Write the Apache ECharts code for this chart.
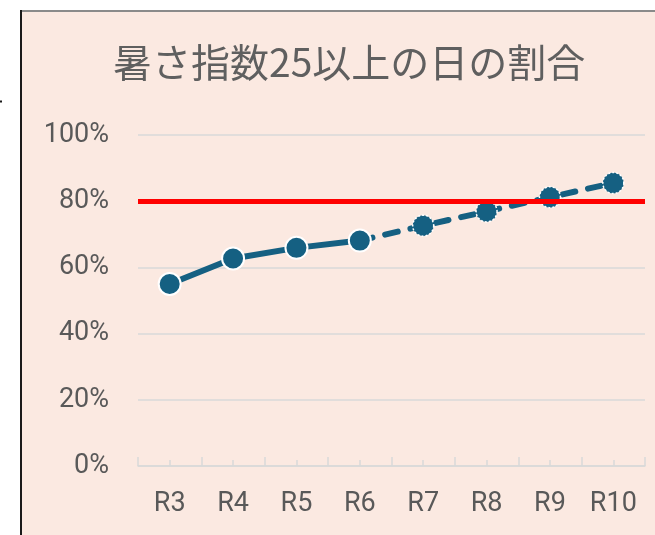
<!DOCTYPE html>
<html>
<head>
<meta charset="utf-8">
<script src="https://cdn.jsdelivr.net/npm/echarts@6/dist/echarts.min.js"></script>
<style>
html,body{margin:0;padding:0;background:#ffffff;}
#chart{width:655px;height:535px;}
</style>
</head>
<body>
<div id="chart"></div>
<script>
// ---- data ----
const titleText = '暑さ指数25以上の日の割合';
const categories = ['R3', 'R4', 'R5', 'R6', 'R7', 'R8', 'R9', 'R10'];
const actualValues = [55.0, 62.7, 65.9, 68.1, null, null, null, null];
const forecastValues = [null, null, null, 68.1, 72.6, 76.9, 81.2, 85.5];
const thresholdValue = 80;
const yTicks = { min: 0, max: 100, interval: 20 };

const chart = echarts.init(document.getElementById('chart'), null, { renderer: 'canvas' });
const navy = '#156082';
const labelFont = 'Roboto, "Liberation Sans", sans-serif';

const option = {
  animation: false,
  backgroundColor: '#ffffff',
  graphic: [
    { type: 'rect', z: -10, shape: { x: 21, y: 11, width: 700, height: 600 }, style: { fill: '#FBE9E1' } },
    { type: 'line', z: -9, shape: { x1: 21, y1: 11, x2: 700, y2: 11 }, style: { stroke: '#8a8a8a', lineWidth: 2 } },
    { type: 'line', z: -9, shape: { x1: 21, y1: 10, x2: 21, y2: 600 }, style: { stroke: '#1a1a1a', lineWidth: 2 } },
    { type: 'line', z: -9, shape: { x1: 0, y1: 101.5, x2: 2, y2: 101.5 }, style: { stroke: '#1a1a1a', lineWidth: 2 } }
  ],
  title: {
    text: titleText,
    left: 113,
    top: 43,
    padding: 0,
    textStyle: {
      fontFamily: '"Noto Sans CJK JP", sans-serif',
      fontSize: 39,
      fontWeight: 'normal',
      color: '#5f5f5f'
    }
  },
  grid: { left: 138, right: 10, top: 135, bottom: 69, containLabel: false },
  xAxis: [
    {
      type: 'category',
      data: categories,
      boundaryGap: true,
      axisLine: { show: true, lineStyle: { color: '#D9D9D9', width: 1.5 } },
      axisTick: { show: true, inside: true, length: 9, alignWithLabel: false, lineStyle: { color: '#D9D9D9', width: 1.5 } },
      axisLabel: { fontFamily: labelFont, fontSize: 27, color: '#595959', margin: 25 },
      splitLine: { show: false }
    },
    {
      type: 'category',
      data: categories,
      position: 'bottom',
      boundaryGap: true,
      axisLine: { show: false },
      axisTick: { show: true, inside: true, length: 6, alignWithLabel: true, lineStyle: { color: '#D9D9D9', width: 1.5 } },
      axisLabel: { show: false },
      splitLine: { show: false }
    }
  ],
  yAxis: {
    type: 'value',
    min: yTicks.min,
    max: yTicks.max,
    interval: yTicks.interval,
    axisLine: { show: false },
    axisTick: { show: false },
    axisLabel: { formatter: '{value}%', fontFamily: labelFont, fontSize: 27, color: '#595959', margin: 29 },
    splitLine: { show: true, lineStyle: { color: '#D9D9D9', width: 1.5 } }
  },
  series: [
    {
      name: '予測',
      type: 'line',
      xAxisIndex: 0,
      data: forecastValues.map((v, i) => (i === 3 ? { value: v, symbol: 'none' } : v)),
      symbol: 'circle',
      symbolSize: 21,
      z: 2,
      lineStyle: { color: navy, width: 6, type: [13, 13], cap: 'round' },
      itemStyle: { color: navy, borderColor: '#ffffff', borderWidth: 1.5, borderType: [2, 2] },
      markLine: {
        silent: true,
        symbol: ['none', 'none'],
        label: { show: false },
        lineStyle: { color: '#FF0000', width: 5, type: 'solid' },
        data: [{ yAxis: thresholdValue }]
      }
    },
    {
      name: '実績',
      type: 'line',
      xAxisIndex: 0,
      data: actualValues,
      symbol: 'circle',
      symbolSize: 22,
      z: 3,
      lineStyle: { color: navy, width: 6 },
      itemStyle: { color: navy, borderColor: '#ffffff', borderWidth: 2 }
    }
  ]
};
chart.setOption(option);
</script>
</body>
</html>
